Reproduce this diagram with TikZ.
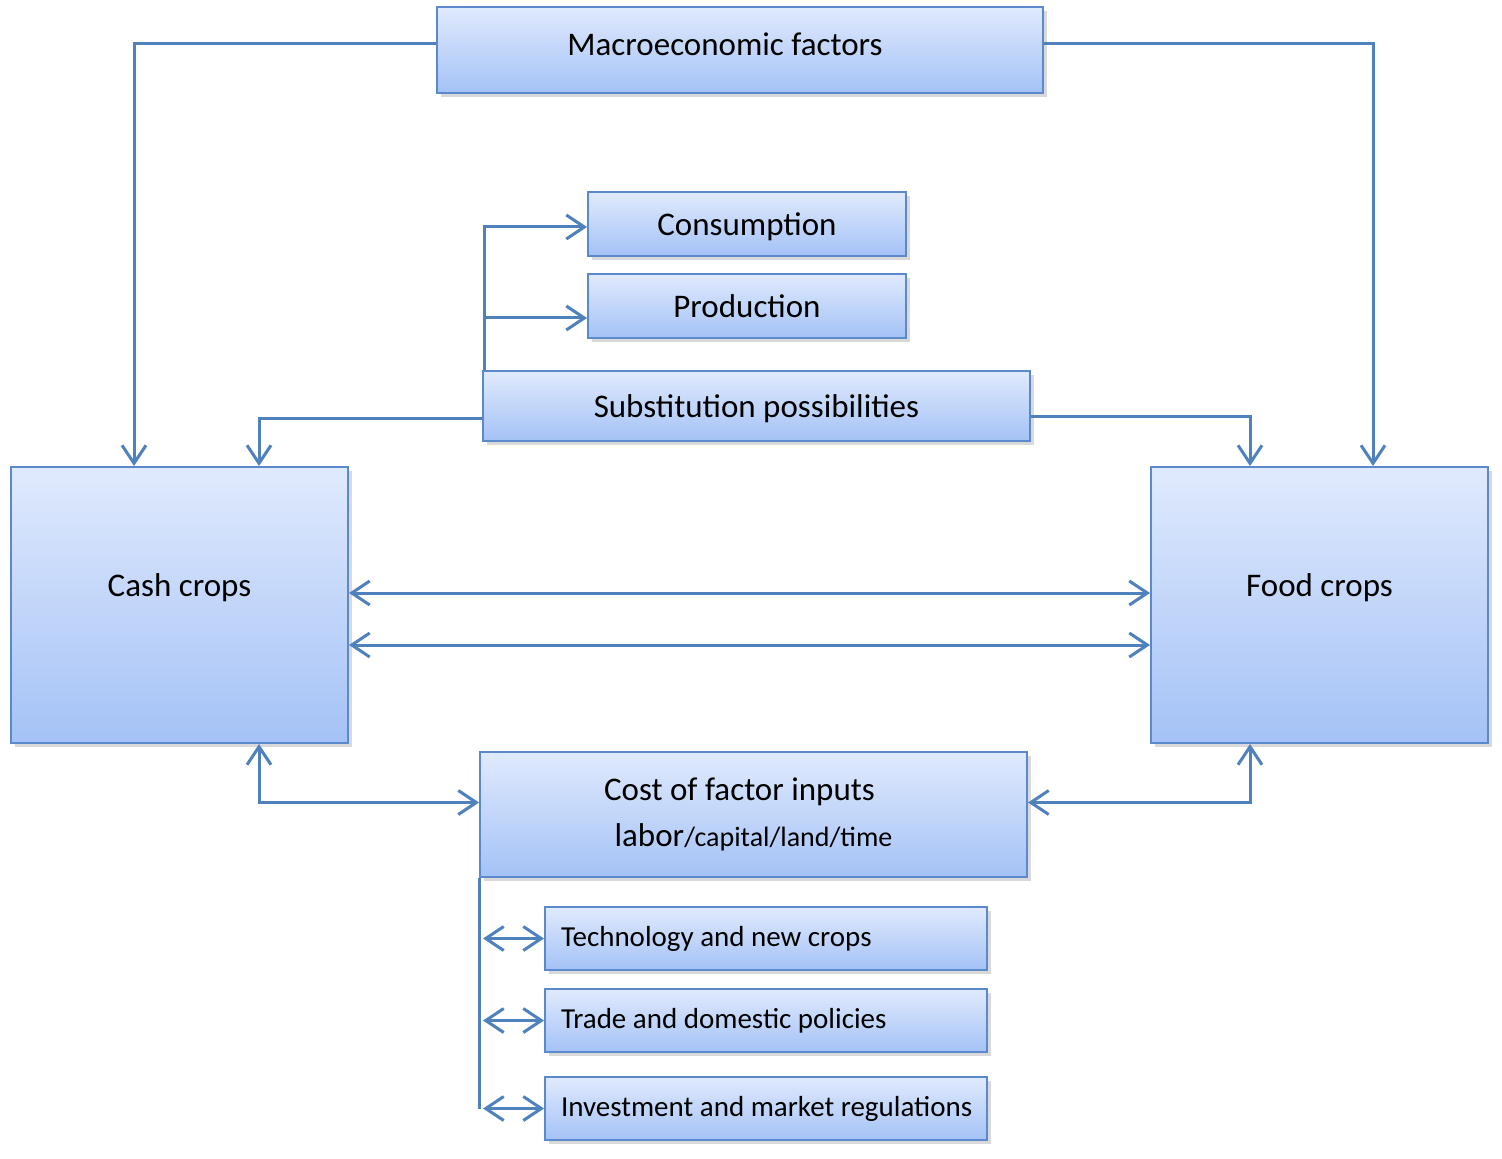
\documentclass[tikz,border=0pt]{standalone}
\usepackage{fontspec}
\setmainfont{Carlito}
\usetikzlibrary{arrows.meta,shadows}
\definecolor{boxtop}{RGB}{224,234,253}
\definecolor{boxbot}{RGB}{164,194,246}
\definecolor{boxline}{RGB}{90,138,204}
\definecolor{linkblue}{RGB}{79,129,189}
\tikzset{
	box/.style={draw=boxline, line width=1pt, top color=boxtop, bottom color=boxbot,
		drop shadow={shadow xshift=2pt, shadow yshift=-2pt, opacity=0.3},
		font=\fontsize{16.5}{23}\selectfont, inner sep=0pt},
	cropbox/.style={box, minimum width=168.5pt, minimum height=138pt, text depth=20pt},
	smallbox/.style={box, font=\fontsize{14.5}{17}\selectfont,
		minimum width=221pt, minimum height=31.5pt},
	wire/.style={draw=linkblue, line width=1.5pt},
	flow/.style={wire, -{Straight Barb[length=9pt,width=12pt]}},
	both/.style={wire, {Straight Barb[length=9pt,width=12pt]}-{Straight Barb[length=9pt,width=12pt]}}
}
\begin{document}
\begin{tikzpicture}[x=0.5pt,y=-0.5pt]
	\useasboundingbox (0,0) rectangle (1502,1159);
	
	\node[box, minimum width=303pt, minimum height=43pt, text depth=6pt] (macro) at (740,50) {Macroeconomic factors\hspace*{15pt}};
	\node[box, minimum width=159pt, minimum height=32pt, text depth=0pt] (cons) at (747,224) {Consumption};
	\node[box, minimum width=159pt, minimum height=32pt] (prod) at (747,306) {Production};
	\node[box, minimum width=273.5pt, minimum height=35pt, text depth=0pt] (subst) at (756.5,406) {Substitution possibilities};
	\node[cropbox] (cash) at (179.5,605) {Cash crops};
	\node[cropbox] (food) at (1319.5,605) {Food crops};
	\node[box, minimum width=273.5pt, minimum height=62.5pt, align=center] (cost) at (753.5,814.5)
		{Cost of factor inputs\hspace*{14pt}\\ labor{\fontsize{14}{23}\selectfont/capital/land/time}};
	
	\coordinate (mL) at (134,44);
	\coordinate (mR) at (1373,44);
	\coordinate (sL) at (259,419);
	\coordinate (sR) at (1250,417);
	
	% macro and substitution links
	\draw[flow] ([yshift=3pt]macro.west) -| (mL |- cash.north);
	\draw[flow] ([yshift=3pt]macro.east) -| (mR |- food.north);
	\draw[flow] (subst.west |- sL) -| (sL |- cash.north);
	\draw[flow] (subst.east |- sR) -| (sR |- food.north);
	\draw[flow] ([xshift=1pt]subst.north west) |- ([yshift=-1.5pt]cons.west);
	\draw[flow] ([xshift=1pt]subst.north west) |- ([yshift=-6pt]prod.west);
	
	% cash <-> food
	\draw[both] ([yshift=6pt]cash.east) -- ([yshift=6pt]food.west);
	\draw[both] ([yshift=-20pt]cash.east) -- ([yshift=-20pt]food.west);
	\draw[both] (sL |- cash.south) |- ([yshift=6pt]cost.west);
	\draw[both] (sR |- food.south) |- ([yshift=6pt]cost.east);
	
	\foreach \n/\y/\t in {tech/938.5/Technology and new crops, trade/1020.5/Trade and domestic policies, inv/1108.5/Investment and market regulations}{
		\node[smallbox] (\n) at (766,\y) {\makebox[205pt][l]{\t}};
		\draw[both] ([xshift=2pt]cost.south west |- \n.west) -- (\n.west);
	};
	\draw[wire] (cost.south west) -- (cost.south west |- inv.west);
	
\end{tikzpicture}
\end{document}
